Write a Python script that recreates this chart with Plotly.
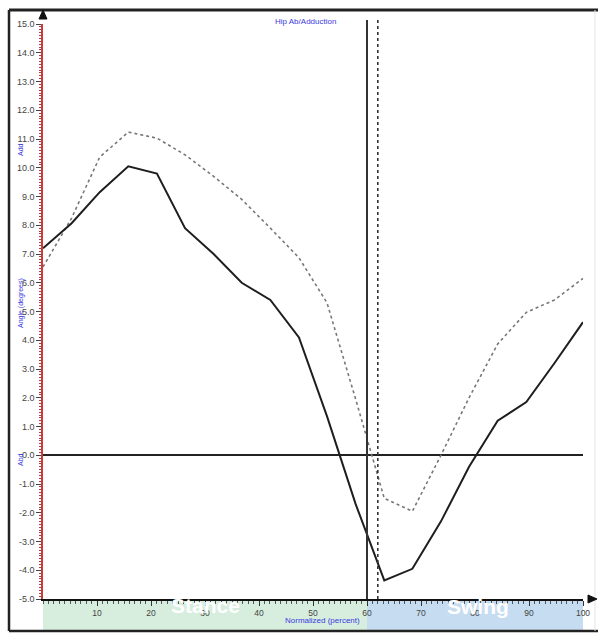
import plotly.graph_objects as go

# ---- data ----
gait_pct = [0, 5.3, 10.5, 15.8, 21.1, 26.3, 31.6, 36.8, 42.1, 47.4,
            52.6, 57.9, 63.2, 68.4, 73.7, 78.9, 84.2, 89.5, 94.7, 100]
angle_solid = [7.2, 8.07, 9.15, 10.05, 9.8, 7.9, 7.0, 6.0, 5.4, 4.1,
               1.35, -1.7, -4.35, -3.95, -2.3, -0.4, 1.2, 1.85, 3.2, 4.63]
angle_dotted = [6.55, 8.25, 10.37, 11.24, 11.03, 10.45, 9.7, 8.9, 7.9, 6.87,
                5.3, 1.95, -1.5, -1.95, 0.0, 2.0, 3.87, 4.97, 5.4, 6.15]
toe_off_solid = 60
toe_off_dotted = 62
x_ticks = [10, 20, 30, 40, 50, 60, 70, 80, 90, 100]
y_ticks = [-5, -4, -3, -2, -1, 0, 1, 2, 3, 4, 5, 6, 7, 8, 9, 10, 11, 12, 13, 14, 15]
phase_names = ["Stance", "Swing"]

FONT = "Liberation Sans"
BLUE = "#3a3ae0"

fig = go.Figure()
fig.add_trace(go.Scatter(x=gait_pct, y=angle_dotted, mode="lines",
                         line=dict(color="#777777", width=1.6, dash="dot"),
                         showlegend=False, hoverinfo="skip"))
fig.add_trace(go.Scatter(x=gait_pct, y=angle_solid, mode="lines",
                         line=dict(color="#1e1e1e", width=2),
                         showlegend=False, hoverinfo="skip"))

W, H = 598, 633
ml, mr, mt, mb = 43, 15, 24, 34
pw, ph = W - ml - mr, H - mt - mb

def px(xp):  # pixel x -> paper
    return (xp - ml) / pw

def py(yp):  # pixel y -> paper
    return (H - mb - yp) / ph

shapes = []
# phase bands under the x axis
shapes.append(dict(type="rect", xref="x", yref="paper", x0=0, x1=toe_off_solid,
                   y0=py(630), y1=py(600), fillcolor="#d7eedf", line=dict(width=0), layer="below"))
shapes.append(dict(type="rect", xref="x", yref="paper", x0=toe_off_solid, x1=100,
                   y0=py(630), y1=py(600), fillcolor="#c6dcf1", line=dict(width=0), layer="below"))
# event lines
shapes.append(dict(type="line", xref="x", yref="paper", x0=toe_off_solid, x1=toe_off_solid,
                   y0=0, y1=py(20), line=dict(color="#333333", width=2)))
shapes.append(dict(type="line", xref="x", yref="paper", x0=toe_off_dotted, x1=toe_off_dotted,
                   y0=0, y1=py(20), line=dict(color="#333333", width=1.6, dash="dot")))
# outer frame
shapes.append(dict(type="line", xref="paper", yref="paper", x0=px(9), x1=px(598), y0=py(10), y1=py(10),
                   line=dict(color="#222222", width=3)))
shapes.append(dict(type="line", xref="paper", yref="paper", x0=px(9), x1=px(9), y0=py(10), y1=py(631),
                   line=dict(color="#222222", width=2.5)))
shapes.append(dict(type="line", xref="paper", yref="paper", x0=px(9), x1=px(598), y0=py(631), y1=py(631),
                   line=dict(color="#222222", width=2.5)))
shapes.append(dict(type="line", xref="paper", yref="paper", x0=px(595), x1=px(595), y0=py(10), y1=py(631),
                   line=dict(color="#e4e4e4", width=1)))
# axis arrows
shapes.append(dict(type="path", xref="paper", yref="paper",
                   path=f"M {px(43)} {py(10)} L {px(39)} {py(19)} L {px(47)} {py(19)} Z",
                   fillcolor="#111111", line=dict(color="#111111", width=1)))
shapes.append(dict(type="path", xref="paper", yref="paper",
                   path=f"M {px(597)} {py(599)} L {px(588)} {py(595)} L {px(588)} {py(603)} Z",
                   fillcolor="#111111", line=dict(color="#111111", width=1)))

annotations = [
    dict(text="Hip Ab/Adduction", x=px(305), y=py(15), xref="paper", yref="paper",
         showarrow=False, font=dict(family=FONT, size=8, color=BLUE)),
    dict(text="Normalized (percent)", x=px(322), y=py(626.5), xref="paper", yref="paper",
         showarrow=False, font=dict(family=FONT, size=8, color=BLUE)),
    dict(text="Add", x=px(15), y=py(141), xref="paper", yref="paper", textangle=-90,
         showarrow=False, font=dict(family=FONT, size=7, color=BLUE)),
    dict(text="Angle (degrees)", x=px(15), y=py(303), xref="paper", yref="paper", textangle=-90,
         showarrow=False, font=dict(family=FONT, size=7, color=BLUE)),
    dict(text="Abd", x=px(15), y=py(468), xref="paper", yref="paper", textangle=-90,
         showarrow=False, font=dict(family=FONT, size=7, color=BLUE)),
    dict(text="<b>" + phase_names[0] + "</b>", x=30, y=py(619), xref="x", yref="paper",
         showarrow=False, font=dict(family=FONT, size=21, color="white")),
    dict(text="<b>" + phase_names[1] + "</b>", x=80.5, y=py(620), xref="x", yref="paper",
         showarrow=False, font=dict(family=FONT, size=21, color="white")),
]

fig.update_layout(
    width=W, height=H,
    margin=dict(l=ml, r=mr, t=mt, b=mb, autoexpand=False),
    paper_bgcolor="white", plot_bgcolor="white",
    shapes=shapes, annotations=annotations,
    showlegend=False,
)
fig.update_xaxes(
    range=[0, 100], tickmode="array", tickvals=x_ticks, ticktext=[str(v) for v in x_ticks],
    showgrid=False, zeroline=False,
    showline=True, linecolor="#111111", linewidth=1.5,
    ticks="outside", ticklen=5, tickwidth=1, tickcolor="#333333",
    tickfont=dict(family=FONT, size=8.5, color="#444444"),
    minor=dict(tickmode="linear", tick0=0, dtick=1, ticks="outside", ticklen=3,
               tickcolor="#555555", showgrid=False),
)
fig.update_yaxes(
    range=[-5, 15], tickmode="array", tickvals=y_ticks, ticktext=[f"{v:.1f}" for v in y_ticks],
    showgrid=False,
    zeroline=True, zerolinecolor="#222222", zerolinewidth=1.5,
    showline=True, linecolor="#cc3a3a", linewidth=1.5,
    ticks="outside", ticklen=5, tickwidth=1, tickcolor="#444444",
    tickfont=dict(family=FONT, size=9, color="#444444"),
    minor=dict(tickmode="linear", tick0=0, dtick=0.1, ticks="outside", ticklen=2.5,
               tickcolor="#a04040", showgrid=False),
)

fig.write_html("out.html", config={"displayModeBar": False},
               post_script="document.body.style.margin='0';document.body.style.overflow='hidden';")
